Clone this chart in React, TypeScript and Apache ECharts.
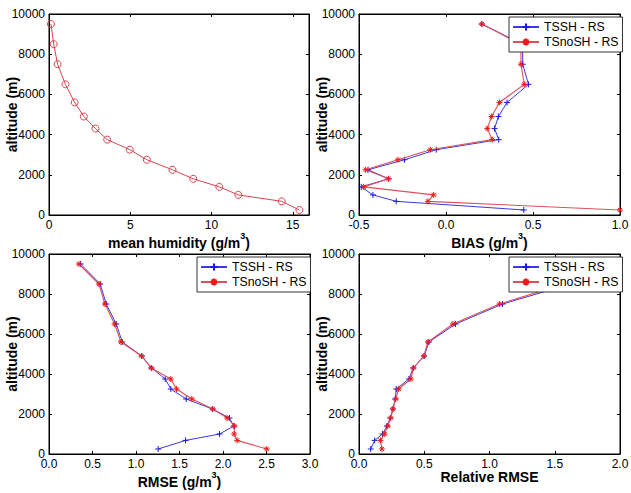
import React, { useEffect, useRef } from 'react';
import * as echarts from 'echarts';

// ---- data ----
const altitudes = [250, 680, 1000, 1400, 1800, 2250, 2750, 3250, 3750, 4300, 4900, 5600, 6500, 7500, 8500, 9500];
const meanHumidity = [15.41, 14.32, 11.65, 10.48, 8.88, 7.6, 6.02, 4.97, 3.58, 2.86, 2.14, 1.58, 1.01, 0.53, 0.29, 0.12];
const biasTSSH = [0.447, -0.286, -0.42, -0.487, -0.33, -0.448, -0.238, -0.056, 0.303, 0.279, 0.301, 0.351, 0.474, 0.441, 0.44, 0.206];
const biasTSnoSH = [1.0, -0.104, -0.071, -0.473, -0.33, -0.462, -0.276, -0.09, 0.266, 0.237, 0.262, 0.307, 0.45, 0.431, 0.43, 0.206];
const rmseTSSH = [1.255, 1.57, 1.96, 2.124, 2.075, 1.88, 1.577, 1.4, 1.336, 1.18, 1.068, 0.842, 0.773, 0.658, 0.589, 0.364];
const rmseTSnoSH = [2.503, 2.163, 2.128, 2.132, 2.048, 1.883, 1.642, 1.466, 1.4, 1.175, 1.064, 0.827, 0.754, 0.643, 0.574, 0.344];
const relTSSH = [0.09, 0.12, 0.18, 0.214, 0.24, 0.26, 0.278, 0.285, 0.383, 0.415, 0.5, 0.536, 0.74, 1.1, 1.62, 2.14];
const relTSnoSH = [0.176, 0.164, 0.197, 0.22, 0.243, 0.26, 0.281, 0.304, 0.397, 0.418, 0.497, 0.528, 0.72, 1.077, 1.57, 2.07];

const seriesNames = ['TSSH - RS', 'TSnoSH - RS'];
const yTicks = { min: 0, max: 10000, interval: 2000 };
const xRanges = [
  { min: 0, max: 16, interval: 5 },
  { min: -0.5, max: 1, interval: 0.5 },
  { min: 0, max: 3, interval: 0.5 },
  { min: 0, max: 2, interval: 0.5 },
];
const xNames = [
  '{a|mean humidity (g/m}{b|3}{a|)}',
  '{a|BIAS (g/m}{b|3}{a|)}',
  '{a|RMSE (g/m}{b|3}{a|)}',
  'Relative RMSE',
];
const yName = 'altitude (m)';

const FONT = "'Liberation Sans', Arial, Helvetica, sans-serif";
const BLUE_LINE = '#3a3ae0';
const BLUE_MARK = '#1a1ae6';
const RED_LINE = '#e0505a';
const RED_MARK = '#f01818';
const PLUS = 'path://M5,0L5,10M0,5L10,5';
const STAR = 'path://M5,0L5,10M0,5L10,5M1.5,1.5L8.5,8.5M8.5,1.5L1.5,8.5';

const pts = (xs: number[]) => xs.map((x, i) => [x, altitudes[i]]);

export default function App() {
  const ref = useRef<HTMLDivElement>(null);
  useEffect(() => {
    if (!ref.current) return;
    const chart = echarts.init(ref.current, undefined, { renderer: 'svg' });
    const grids = [
      { left: 49, top: 14, width: 260, height: 201 },
      { left: 359, top: 14, width: 261, height: 201 },
      { left: 49, top: 254, width: 261, height: 200 },
      { left: 359, top: 254, width: 261, height: 200 },
    ].map((g) => ({ ...g, show: true, borderColor: '#000', borderWidth: 1, backgroundColor: '#fff', outerBoundsMode: 'none', containLabel: false }));

    const richName = {
      a: { fontSize: 14, fontWeight: 'bold', fontFamily: FONT, color: '#000', lineHeight: 23 },
      b: { fontSize: 9, fontWeight: 'bold', fontFamily: FONT, color: '#000', lineHeight: 8, verticalAlign: 'top' },
    };

    const lineBlack = { show: true, onZero: false, lineStyle: { color: '#000', width: 1 } };
    const tick = { show: true, inside: true, length: 3, lineStyle: { color: '#000', width: 1 } };

    const xAxes: any[] = [];
    const yAxes: any[] = [];
    for (let i = 0; i < 4; i++) {
      const r = xRanges[i];
      xAxes.push({
        type: 'value', gridIndex: i, position: 'bottom', ...r,
        axisLine: lineBlack, axisTick: tick, splitLine: { show: false },
        axisLabel: {
          color: '#000', fontSize: 12, fontFamily: FONT, margin: 4,
          showMaxLabel: i === 0 ? false : true,
          formatter: (v: number) => (i === 0 ? String(v) : v.toFixed(1)),
        },
        name: xNames[i], nameLocation: 'middle', nameGap: 16, nameMoveOverlap: false,
        nameTextStyle: i === 3
          ? { fontSize: 14, fontWeight: 'bold', fontFamily: FONT, color: '#000' }
          : { rich: richName },
      });
    }
    for (let i = 0; i < 4; i++) {
      const r = xRanges[i];
      xAxes.push({
        type: 'value', gridIndex: i, position: 'top', ...r,
        axisLine: lineBlack, axisTick: tick, splitLine: { show: false }, axisLabel: { show: false },
      });
    }
    for (let i = 0; i < 4; i++) {
      yAxes.push({
        type: 'value', gridIndex: i, position: 'left', ...yTicks,
        axisLine: lineBlack, axisTick: tick, splitLine: { show: false },
        axisLabel: { color: '#000', fontSize: 12, fontFamily: FONT, margin: 4, formatter: (v: number) => String(v) },
        name: yName, nameLocation: 'middle', nameGap: 30, nameMoveOverlap: false,
        nameTextStyle: { fontSize: 14, fontWeight: 'bold', fontFamily: FONT, color: '#000' },
      });
    }
    for (let i = 0; i < 4; i++) {
      yAxes.push({
        type: 'value', gridIndex: i, position: 'right', ...yTicks,
        axisLine: lineBlack, axisTick: tick, splitLine: { show: false }, axisLabel: { show: false },
      });
    }

    const blue = (data: number[], idx: number) => ({
      type: 'line', name: seriesNames[0], xAxisIndex: idx, yAxisIndex: idx, data: pts(data),
      symbol: PLUS, symbolSize: 6, showAllSymbol: true,
      itemStyle: { color: BLUE_MARK, borderColor: BLUE_MARK, borderWidth: 1 },
      lineStyle: { color: BLUE_LINE, width: 1 }, emphasis: { disabled: true }, z: 2,
    });
    const red = (data: number[], idx: number) => ({
      type: 'line', name: seriesNames[1], xAxisIndex: idx, yAxisIndex: idx, data: pts(data),
      symbol: STAR, symbolSize: 6, showAllSymbol: true,
      itemStyle: { color: RED_MARK, borderColor: RED_MARK, borderWidth: 1 },
      lineStyle: { color: RED_LINE, width: 1.1 }, emphasis: { disabled: true }, z: 3,
    });

    const legendBase = {
      orient: 'vertical', data: seriesNames, backgroundColor: '#fff', borderColor: '#333', borderWidth: 1,
      borderRadius: 0, padding: [4, 4, 4, 3], itemGap: 3, itemWidth: 26, itemHeight: 9,
      textStyle: { fontSize: 12.3, color: '#000', fontFamily: FONT }, selectedMode: false, z: 10,
    };

    chart.setOption({
      animation: false,
      backgroundColor: '#fff',
      grid: grids,
      xAxis: xAxes,
      yAxis: yAxes,
      legend: [
        { ...legendBase, left: 509, top: 17 },
        { ...legendBase, left: 197, top: 257 },
        { ...legendBase, left: 509, top: 257 },
      ],
      series: [
        {
          type: 'line', name: 'mean humidity', xAxisIndex: 0, yAxisIndex: 0, data: pts(meanHumidity),
          symbol: 'circle', symbolSize: 7, showAllSymbol: true,
          itemStyle: { color: 'rgba(0,0,0,0)', borderColor: '#d9434f', borderWidth: 1 },
          lineStyle: { color: '#d9434f', width: 1 }, emphasis: { disabled: true },
        },
        blue(biasTSSH, 1), red(biasTSnoSH, 1),
        blue(rmseTSSH, 2), red(rmseTSnoSH, 2),
        blue(relTSSH, 3), red(relTSnoSH, 3),
      ],
    });
    return () => chart.dispose();
  }, []);
  return <div ref={ref} style={{ position: 'fixed', left: 0, top: 0, width: 631, height: 493, background: '#fff' }} />;
}
